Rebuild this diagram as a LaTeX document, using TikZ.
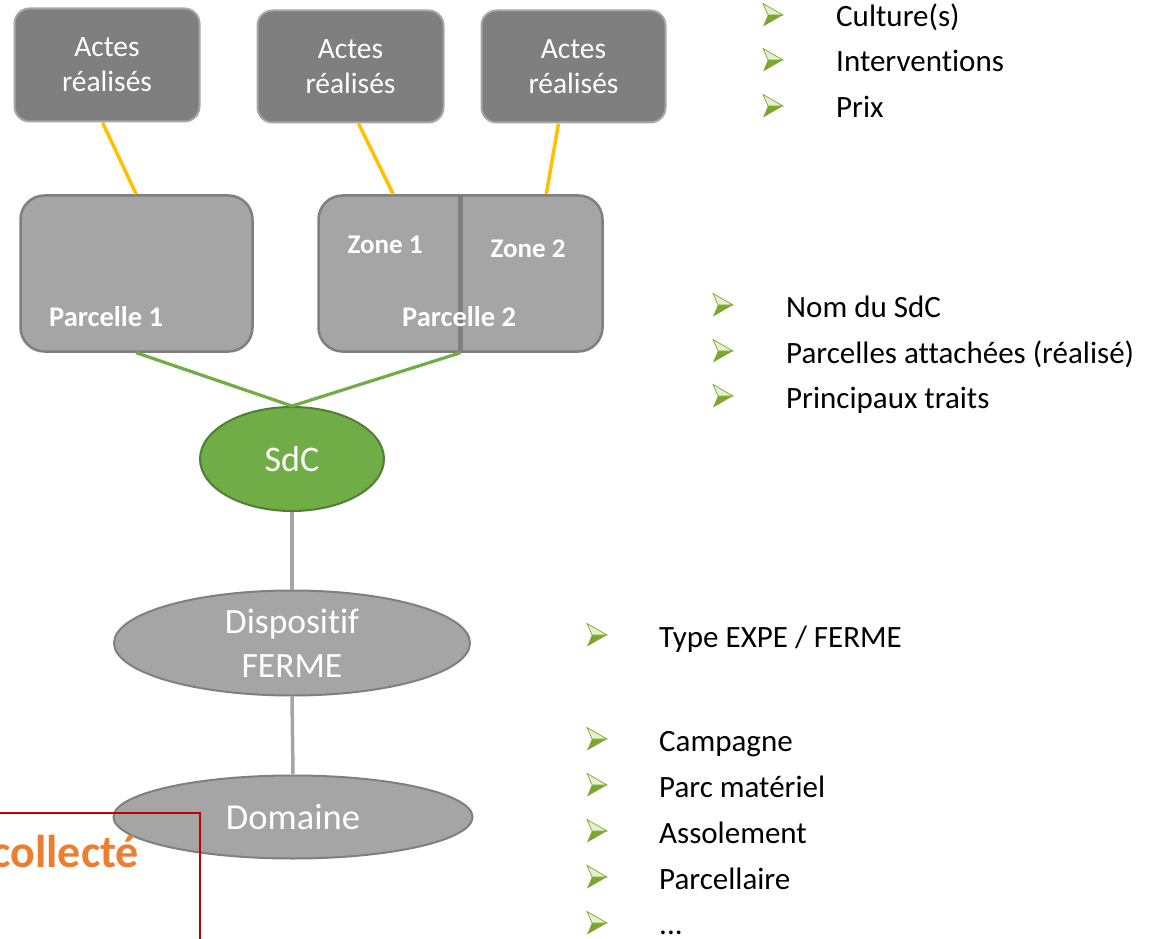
\documentclass[tikz,border=0pt]{standalone}
\usepackage{fontspec}
\setmainfont{Carlito}[Ligatures=NoCommon]
\usetikzlibrary{shapes.geometric,calc}
\definecolor{dkgray}{HTML}{7F7F7F}
\definecolor{ltgray}{HTML}{A5A5A5}
\definecolor{actborder}{HTML}{A6A6A6}
\definecolor{sdcgreen}{HTML}{70AD47}
\definecolor{sdcborder}{HTML}{507E32}
\definecolor{linkyellow}{HTML}{FFC000}
\definecolor{linkgreen}{HTML}{70AD47}
\definecolor{redframe}{HTML}{C00000}
\definecolor{orangetxt}{HTML}{ED7D31}
\definecolor{bulgreen}{HTML}{7AA82E}
\definecolor{bullight}{HTML}{E4F0D0}
\tikzset{
  x=1pt, y=-1pt,
  actbox/.style={draw=actborder, line width=2pt, fill=dkgray, rounded corners=15pt,
    inner sep=0pt, text=white, align=center, font=\fontsize{29.5}{35}\selectfont},
  parbox/.style={draw=dkgray, line width=2.5pt, fill=ltgray, rounded corners=24pt, inner sep=0pt},
  ellgray/.style={ellipse, draw=dkgray, line width=2pt, fill=ltgray, inner sep=0pt},
  ellgreen/.style={ellipse, draw=sdcborder, line width=2pt, fill=sdcgreen, inner sep=0pt},
  ltxt/.style={text=white, align=center, inner sep=0pt},
  btxt/.style={text=white, inner sep=0pt, font=\bfseries\fontsize{27}{32}\selectfont},
  bptxt/.style={text=white, inner sep=0pt, font=\bfseries\fontsize{28.5}{32}\selectfont},
  listtxt/.style={inner sep=0pt, anchor=base west, font=\fontsize{31}{37}\selectfont},
  yline/.style={draw=linkyellow, line width=3.5pt},
  gline/.style={draw=linkgreen, line width=3.2pt},
  grline/.style={draw=ltgray, line width=3.5pt},
  bul/.pic={
    \fill[bulgreen] (-4,0) -- (11,0) -- (-9,11.5) -- cycle;
    \filldraw[fill=bullight, draw=bulgreen, line width=0.7pt] (-9,-11.5) -- (11,0) -- (-4,0) -- cycle;
  }
}
\begin{document}
\begin{tikzpicture}
\useasboundingbox (0,0) rectangle (1163,939);
\clip (0,0) rectangle (1163,939);
% top boxes
\node[actbox, minimum width=185pt, minimum height=113pt] (a1) at (107,65) {Actes\\réalisés};
\node[actbox, minimum width=186pt, minimum height=112pt] (a2) at (350.5,66.5) {Actes\\réalisés};
\node[actbox, minimum width=184pt, minimum height=112pt] (a3) at (573.5,66.5) {Actes\\réalisés};
% parcelles
\node[parbox, minimum width=232pt, minimum height=156pt] (p1) at (136.5,273.5) {};
\node[parbox, minimum width=284pt, minimum height=156pt] (p2) at (460.5,273.5) {};
\draw[draw=dkgray, line width=5pt] (p2.north) -- (p2.south);
\node[btxt, anchor=base] (z1) at (385,254) {Zone 1};
\node[btxt, anchor=base] (z2) at (528,257) {Zone 2};
\node[bptxt, anchor=base west] (p1t) at (49,326) {Parcelle 1};
\node[bptxt, anchor=base west] (p2t) at (402,326) {Parcelle 2};
% ellipses
\node[ellgreen, minimum width=184pt, minimum height=104pt,
  label={[ltxt, font=\fontsize{36}{42}\selectfont]center:SdC}] (sdc) at (292,459) {};
\node[ellgray, minimum width=356pt, minimum height=105pt,
  label={[ltxt, font=\fontsize{35.5}{44}\selectfont]center:Dispositif\\FERME}] (disp) at (292,643) {};
\node[ellgray, minimum width=359pt, minimum height=83pt,
  label={[ltxt, font=\fontsize{36.5}{42}\selectfont]center:Domaine}] (dom) at (293,817) {};
% connectors
\draw[yline] ($(a1.south west)+(89,0)$) -- ($(p1.north west)+(117,0)$);
\draw[yline] ($(a2.south west)+(102,0)$) -- ($(p2.north west)+(76,0)$);
\draw[yline] ($(a3.south west)+(78,0)$) -- ($(p2.north west)+(229,0)$);
\draw[gline] ($(p1.south west)+(117,0)$) -- (sdc.north);
\draw[gline] (p2.south) -- (sdc.north);
\draw[grline] (sdc.south) -- (disp.north);
\draw[grline] (disp.south) -- (dom.north);
% red frame and text
\draw[draw=redframe, line width=1.5pt] (-10,813) -- (200,813) -- (200,950);
\node[inner sep=0pt, anchor=base east, text=orangetxt, font=\bfseries\fontsize{46}{50}\selectfont] (coll) at (139,867) {collecté};
% lists
\foreach \y/\t [count=\i] in {27/{Culture(s)}, 72/{Interventions}, 118/{Prix}}{
  \pic at (772,\y-12) {bul};
  \node[listtxt] (l1-\i) at (836,\y) {\t};
}
\foreach \y/\t [count=\i] in {317/{Nom du SdC}, 363/{Parcelles attachées (réalisé)}, 408/{Principaux traits}}{
  \pic at (722,\y-12) {bul};
  \node[listtxt] (l2-\i) at (786,\y) {\t};
}
\foreach \y/\t [count=\i] in {647/{Type EXPE / FERME}, 751/{Campagne}, 797/{Parc matériel}, 843/{Assolement}, 889/{Parcellaire}}{
  \pic at (596,\y-12) {bul};
  \node[listtxt] (l3-\i) at (659,\y) {\t};
}
\pic at (596,923) {bul};
\node[listtxt] (l3-6) at (659,934) {...};
\end{tikzpicture}
\end{document}
